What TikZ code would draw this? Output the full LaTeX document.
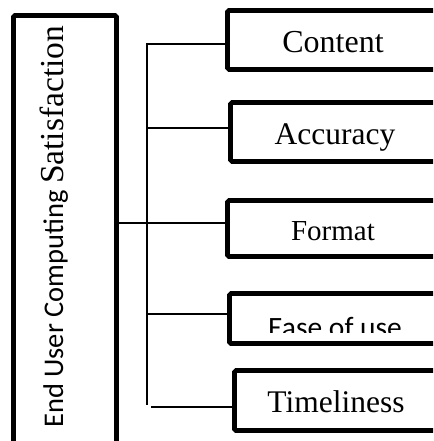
\documentclass[tikz,border=0pt]{standalone}
\usepackage{fontspec}
\newfontfamily\serifA{Liberation Serif}
\newfontfamily\sansA{Carlito}
\begin{document}
\begin{tikzpicture}[x=1pt,y=-1pt,
  box/.style={draw, line width=4.6pt, rounded corners=1.5pt, inner sep=0pt, rectangle},
  conn/.style={line width=1.3pt},
  lbl/.style={inner sep=0pt, anchor=base}]
\useasboundingbox (0,0) rectangle (433,441);
\clip (0,0) rectangle (433,441);
% main box
\node[box, minimum width=103pt, minimum height=454.5pt] (eucs) at (65,242.75) {};
\node[rotate=90, anchor=base west, inner sep=0pt] (eucsText) at (63,428)
  {{\sansA\fontsize{28.5}{30}\selectfont End User Computing }{\serifA\fontsize{33.5}{36}\selectfont Satisfaction}};
% dimension boxes
\node[box, minimum width=211pt, minimum height=59pt] (c1) at (333,40) {};
\node[box, minimum width=209pt, minimum height=59pt] (c2) at (335,132) {};
\node[box, minimum width=211pt, minimum height=56pt] (c3) at (333,228.5) {};
\node[box, minimum width=211pt, minimum height=50pt] (c4) at (335,318.5) {};
\node[box, minimum width=203pt, minimum height=60pt] (c5) at (336,400.5) {};
% labels
\node[lbl, font=\serifA\fontsize{32}{36}\selectfont] (l1) at (333,53) {Content};
\node[lbl, font=\serifA\fontsize{31.5}{36}\selectfont] (l2) at (335,144) {Accuracy};
\node[lbl, font=\serifA\fontsize{29}{34}\selectfont] (l3) at (333,240) {Format};
\begin{scope}
\clip (236,296) rectangle (433,332);
\node[lbl, font=\sansA\fontsize{29.5}{34}\selectfont] (l4) at (335,337) {Ease of use};
\end{scope}
\node[lbl, font=\serifA\fontsize{31.5}{36}\selectfont] (l5) at (336,412) {Timeliness};
% connectors
\coordinate (top) at (147,43);
\coordinate (bot) at (147,405);
\coordinate (j1) at (147,44);
\coordinate (j2) at (147,128);
\coordinate (j3) at (147,223);
\coordinate (j4) at (147,314);
\coordinate (j5) at (151,407);
\draw[conn] (top) -- (bot);
\draw[conn] (j1) -- (j1 -| c1.west);
\draw[conn] (j2) -- (j2 -| c2.west);
\draw[conn] (j3 -| eucs.east) -- (j3 -| c3.west);
\draw[conn] (j4) -- (j4 -| c4.west);
\draw[conn] (j5) -- (j5 -| c5.west);
\end{tikzpicture}
\end{document}
